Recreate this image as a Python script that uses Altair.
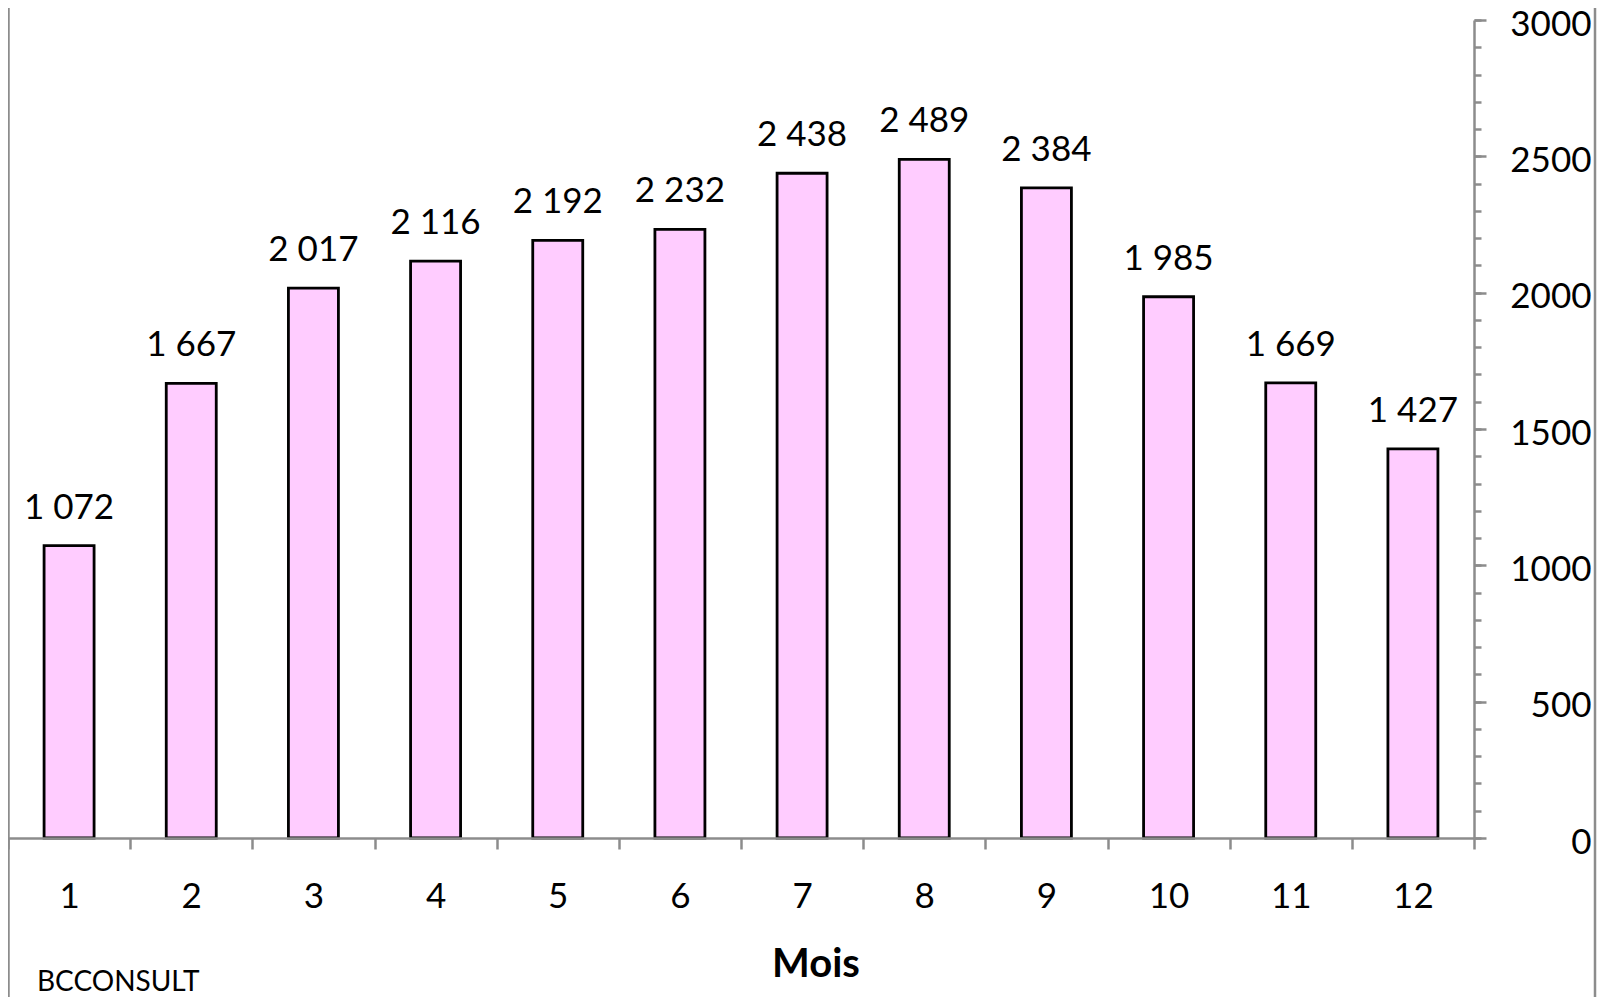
import altair as alt
import pandas as pd

# ---- data ----
mois = [str(i) for i in range(1, 13)]
valeurs = [1072, 1667, 2017, 2116, 2192, 2232, 2438, 2489, 2384, 1985, 1669, 1427]
etiquettes = [f"{v:,}".replace(",", " ") for v in valeurs]
ticks_majeurs = [0, 500, 1000, 1500, 2000, 2500, 3000]
ticks_mineurs = list(range(0, 3001, 100))
titre_x = "Mois"
source = "BCCONSULT"

df = pd.DataFrame({"mois": mois, "valeur": valeurs, "etiquette": etiquettes})
one = pd.DataFrame({"k": [0]})

FONT = "Lato"
GREY = "#8c8c8c"
PLOT_W = 1466
PLOT_H = 818
PAD_TOP = 12
TOTAL_W = 1589
TOTAL_H = 989

xenc = alt.X(
    "mois:N", sort=mois,
    scale=alt.Scale(paddingInner=0, paddingOuter=0),
    axis=alt.Axis(title=None, orient="bottom", domainColor=GREY, domainWidth=2.5,
                  tickColor=GREY, tickWidth=2.5, tickSize=11, tickBand="extent",
                  labelFont=FONT, labelFontSize=35, labelColor="black", labelAngle=0,
                  labelBaseline="alphabetic", labelPadding=58, zindex=1, grid=False),
)
yscale = alt.Scale(domain=[0, 3000], nice=False, zero=True)

bars = alt.Chart(df).mark_bar(size=50, fill="#FFCCFF", stroke="black", strokeWidth=2.8).encode(
    x=xenc,
    y=alt.Y("valeur:Q", scale=yscale,
            axis=alt.Axis(title=None, orient="right", values=ticks_majeurs, format="d",
                          domainColor=GREY, domainWidth=2.5, tickColor=GREY, tickWidth=2.5,
                          tickSize=12, labelFont=FONT, labelFontSize=35, labelColor="black",
                          labelAlign="right", labelBaseline="middle", labelPadding=105,
                          labelOffset=4, labelFlush=False, grid=False, zindex=1)),
)

labels = alt.Chart(df).mark_text(font=FONT, fontSize=35, color="black", baseline="alphabetic",
                                 align="center", dy=-27).encode(
    x=alt.X("mois:N", sort=mois),
    y=alt.Y("valeur:Q", scale=yscale,
            axis=alt.Axis(title=None, orient="right", values=ticks_mineurs, labels=False,
                          domain=False, tickColor=GREY, tickWidth=2.5, tickSize=7,
                          grid=False, zindex=1)),
    text="etiquette:N",
)

border_left = alt.Chart(one).mark_rule(color=GREY, strokeWidth=2.5).encode(
    x=alt.value(0.5), y=alt.value(-PAD_TOP), y2=alt.value(TOTAL_H - PAD_TOP))
border_right = alt.Chart(one).mark_rule(color=GREY, strokeWidth=2.5).encode(
    x=alt.value(TOTAL_W - 2), y=alt.value(-PAD_TOP), y2=alt.value(TOTAL_H - PAD_TOP))

title_txt = alt.Chart(one).mark_text(text=titre_x, font=FONT, fontSize=40, fontWeight="bold",
                                     color="black", align="center", baseline="alphabetic").encode(
    x=alt.value(808), y=alt.value(957))
source_txt = alt.Chart(one).mark_text(text=source, font=FONT, fontSize=28, color="black",
                                      align="left", baseline="alphabetic").encode(
    x=alt.value(29), y=alt.value(971))

chart = alt.layer(bars, labels, border_left, border_right, title_txt, source_txt).resolve_axis(
    y="independent"
).properties(
    width=PLOT_W, height=PLOT_H,
    padding={"left": 0, "top": PAD_TOP, "right": TOTAL_W - PLOT_W, "bottom": TOTAL_H - PLOT_H - PAD_TOP},
    autosize=alt.AutoSizeParams(type="none"),
    background="white",
).configure_view(strokeWidth=0, stroke="transparent")

chart.save("out.html", embed_options={"renderer": "svg", "actions": False})
